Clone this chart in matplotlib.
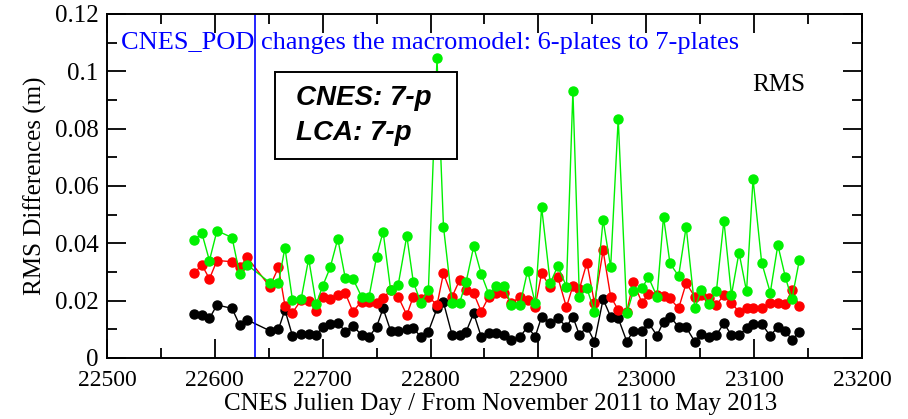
import matplotlib.pyplot as plt
from matplotlib.patches import Rectangle

# CNES julian days of each point
days = [22581, 22588, 22595, 22602, 22616, 22623, 22630, 22651, 22659, 22665,
        22672, 22680, 22687, 22694, 22700, 22707, 22714, 22721,
        22728, 22736, 22743, 22750, 22756, 22763, 22770, 22778, 22784, 22791,
        22798, 22806, 22812, 22820, 22827, 22833, 22840, 22847, 22854, 22861,
        22868, 22875, 22883, 22890, 22897, 22903, 22911, 22918, 22926, 22932,
        22938, 22945, 22952, 22960, 22967, 22974, 22982, 22988, 22996, 23002,
        23010, 23016, 23022, 23030, 23037, 23045, 23051, 23058, 23065, 23072,
        23079, 23086, 23093, 23099, 23107, 23115, 23122, 23129, 23135, 23142]

rms_green = [0.0412, 0.0435, 0.0340, 0.0444, 0.0420, 0.0293, 0.0325, 0.0263, 0.0261, 0.0385,
             0.0202, 0.0205, 0.0346, 0.0188, 0.0251, 0.0316, 0.0416, 0.0278,
             0.0277, 0.0214, 0.0214, 0.0354, 0.0441, 0.0237, 0.0255, 0.0426, 0.0266, 0.0193,
             0.0237, 0.1045, 0.0458, 0.0193, 0.0193, 0.0266, 0.0389, 0.0293, 0.0223, 0.0251,
             0.0251, 0.0185, 0.0185, 0.0305, 0.0191, 0.0526, 0.0261, 0.0321, 0.0249, 0.0932,
             0.0212, 0.0243, 0.0162, 0.0482, 0.0316, 0.0835, 0.0156, 0.0232, 0.0243, 0.0282,
             0.0214, 0.0493, 0.0330, 0.0286, 0.0458, 0.0173, 0.0237, 0.0187, 0.0232, 0.0479,
             0.0220, 0.0368, 0.0232, 0.0625, 0.0333, 0.0228, 0.0394, 0.0282, 0.0205, 0.0342]

rms_red = [0.0296, 0.0325, 0.0276, 0.0340, 0.0336, 0.0316, 0.0351, 0.0249, 0.0316, 0.0183,
           0.0158, 0.0202, 0.0200, 0.0165, 0.0214, 0.0205, 0.0220, 0.0226,
           0.0162, 0.0197, 0.0197, 0.0191, 0.0208, 0.0237, 0.0214, 0.0150, 0.0214, 0.0205,
           0.0214, 0.0185, 0.0296, 0.0214, 0.0272, 0.0237, 0.0226, 0.0162, 0.0214, 0.0226,
           0.0228, 0.0191, 0.0214, 0.0202, 0.0179, 0.0296, 0.0247, 0.0282, 0.0177, 0.0252,
           0.0240, 0.0333, 0.0191, 0.0375, 0.0214, 0.0168, 0.0162, 0.0266, 0.0193, 0.0223,
           0.0220, 0.0216, 0.0208, 0.0173, 0.0261, 0.0214, 0.0220, 0.0208, 0.0185, 0.0220,
           0.0191, 0.0162, 0.0173, 0.0173, 0.0173, 0.0193, 0.0193, 0.0188, 0.0237, 0.0181]

rms_black = [0.0154, 0.0150, 0.0138, 0.0185, 0.0173, 0.0115, 0.0133, 0.0095, 0.0100, 0.0168,
             0.0077, 0.0084, 0.0084, 0.0080, 0.0109, 0.0119, 0.0123, 0.0092,
             0.0113, 0.0080, 0.0074, 0.0109, 0.0173, 0.0095, 0.0095, 0.0100, 0.0104, 0.0074,
             0.0092, 0.0173, 0.0194, 0.0080, 0.0080, 0.0092, 0.0156, 0.0074, 0.0086, 0.0086,
             0.0080, 0.0063, 0.0074, 0.0109, 0.0074, 0.0144, 0.0121, 0.0139, 0.0109, 0.0144,
             0.0080, 0.0109, 0.0057, 0.0205, 0.0144, 0.0139, 0.0057, 0.0095, 0.0095, 0.0123,
             0.0078, 0.0127, 0.0144, 0.0109, 0.0107, 0.0057, 0.0084, 0.0072, 0.0080, 0.0121,
             0.0080, 0.0080, 0.0104, 0.0119, 0.0119, 0.0077, 0.0109, 0.0095, 0.0063, 0.0092]

change_day = 22637

serif = 'Liberation Serif'

fig = plt.figure(figsize=(9.08, 4.19), dpi=100)
ax = fig.add_axes([0.1178, 0.1456, 0.8315, 0.821])

ax.plot(days, rms_black, '-o', color='black', lw=1, ms=6.5)
ax.plot(days, rms_red, '-o', color='#ff0000', lw=1, ms=6.5)
ax.plot(days, rms_green, '-o', color='#00f000', lw=1, ms=6.5)

ax.axvline(change_day, color='#0000ff', lw=1.2)

ax.set_xlim(22500, 23200)
ax.set_ylim(0, 0.12)
ax.set_xticks(range(22500, 23201, 100))
ax.set_xticks(range(22550, 23200, 100), minor=True)
ax.set_yticks([0, 0.02, 0.04, 0.06, 0.08, 0.1, 0.12])
ax.set_yticklabels(['0', '0.02', '0.04', '0.06', '0.08', '0.1', '0.12'])
ax.set_yticks([0.01, 0.03, 0.05, 0.07, 0.09, 0.11], minor=True)

ax.tick_params(which='both', direction='in', top=True, right=True, width=1.3)
ax.tick_params(axis='x', pad=9, labelsize=17)
ax.tick_params(axis='y', pad=6, labelsize=18)
ax.tick_params(which='major', length=14)
ax.tick_params(which='minor', length=7)
for lab in ax.get_xticklabels() + ax.get_yticklabels():
    lab.set_family(serif)
for s in ax.spines.values():
    s.set_linewidth(1.4)

ax.set_xlabel('CNES Julien Day / From November 2011 to May 2013',
              family=serif, fontsize=18, va='center')
ax.xaxis.set_label_coords(0.522, -0.135)
ax.set_ylabel('RMS Differences (m)', family=serif, fontsize=18, labelpad=6)

ax.text(0.0185, 0.916, 'CNES_POD changes the macromodel: 6-plates to 7-plates',
        transform=ax.transAxes, color='#0000ff', family=serif, fontsize=19,
        va='center', ha='left')
ax.text(0.854, 0.794, 'RMS', transform=ax.transAxes, family=serif, fontsize=18,
        va='center', ha='left')

# annotation box
ax.add_patch(Rectangle((0.2225, 0.5785), 0.2411, 0.2529, transform=ax.transAxes,
                       fc='white', ec='black', lw=1.4, zorder=5))
ax.text(0.2503, 0.756, 'CNES: 7-p', transform=ax.transAxes,
        family='Liberation Sans', fontsize=20, fontweight='bold', style='italic',
        va='center', ha='left', zorder=6)
ax.text(0.2503, 0.654, 'LCA: 7-p', transform=ax.transAxes,
        family='Liberation Sans', fontsize=20, fontweight='bold', style='italic',
        va='center', ha='left', zorder=6)

fig.savefig('out.png', dpi=100)
